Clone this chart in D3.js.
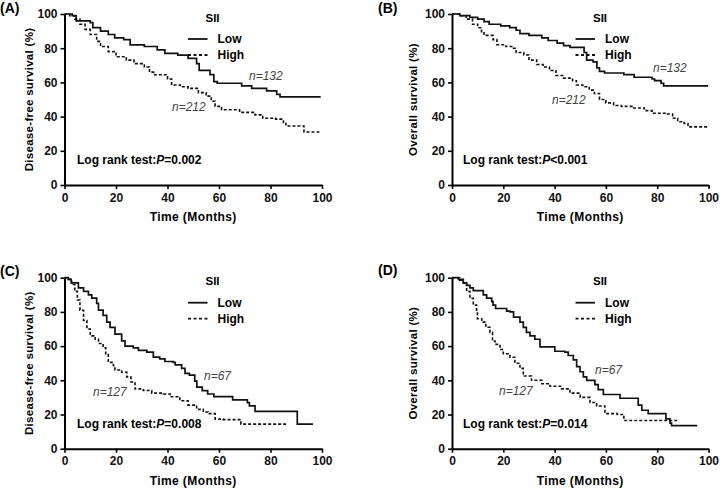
<!DOCTYPE html>
<html>
<head>
<meta charset="utf-8">
<script src="https://cdn.jsdelivr.net/npm/d3@7"></script>
<style>
  body { margin: 0; background: #fff; }
  svg { display: block; font-family: "Liberation Sans", Arial, sans-serif; }
</style>
</head>
<body>
<svg id="chart" width="720" height="488"></svg>
<script>
const monthTicks = [0, 20, 40, 60, 80, 100];
const survivalTicks = [0, 20, 40, 60, 80, 100];

// [month, survival %] step points
const dfsLowA = [[0,100],[3,99],[4.5,96],[10,95],[11,92],[14,90],[17,88],[19.5,86],[23,85],[25.5,82],[31,81],[36,79],[39,77],[44,76],[48,74],[51.3,71],[52.3,67],[56.5,64.5],[58,60.5],[59.3,59.5],[68.8,58],[72.7,56.5],[78.5,55],[82.4,53],[83.7,51.5],[99.5,51.5]];
const dfsHighA = [[0,100],[2,99],[4,97],[6,94],[8,91],[10,88],[12.5,84],[14,81],[17,78],[20,75],[24,73],[27,71],[31,69],[33,66],[35,64.5],[40,62],[41.6,58.5],[45,57.5],[48,56.5],[52,54],[55,52],[57,49],[58.5,46],[61,44],[68,42.5],[74,41],[77,39],[82,38.5],[85,36],[86,34.5],[93,31],[99,31]];

const osLowB = [[0,100],[3,99],[7,98],[10,97],[12.5,95.5],[14.5,94],[19,93],[22.5,92],[25,90.5],[26.5,88.5],[30,87.5],[35,86],[37.5,84.5],[41,83],[43.5,81.5],[46,80.5],[51.5,77.5],[52.5,73],[55,72],[56.5,68.5],[57.5,66.5],[59.5,65.5],[67,64.5],[71,63],[78,62],[79,61],[81.5,59.5],[82.5,58],[99.9,58]];
const osHighB = [[0,100],[3,99],[5.5,97],[8,94],[10,92],[11.5,89],[12.5,87.5],[16,85],[17.5,82],[21,81],[24,80],[25,77.5],[28,76],[30,73],[33,70.5],[35.5,69],[38,67],[40.5,64],[43.5,62.5],[47,61],[48.5,58.5],[51,57.5],[53.5,55.5],[55.5,53.5],[57.5,50],[60,48],[63,46.5],[66,46],[70.5,45],[75,43.5],[78,42],[84,41.5],[86,39],[88,37],[90.5,36],[92,34],[99.9,34]];

const dfsLowC = [[0,100],[1.5,99],[2.6,97],[5.4,94],[7.4,92],[9.3,90],[10.6,88],[12.5,85],[13.2,81],[15,78],[16.4,74],[17.7,71],[19.6,67],[22.2,63],[23.5,60],[26.7,59],[28.7,57.5],[32,56.5],[34.5,53.5],[37,52.5],[39,51],[42.2,50.5],[43,49],[45.5,47],[46.8,44],[48.5,43],[50.6,39.5],[51.4,36],[53.5,34],[55.6,32],[58,30.5],[65.3,28.5],[71,27],[71.8,25],[74,21.8],[90.4,14.4],[96.5,14.4]];
const dfsHighC = [[0,100],[1.5,99],[2.8,96],[4,92],[5,87],[6,81],[7.4,75],[8.7,70],[10,66],[11.9,64],[13.2,61.5],[15,59],[16,55],[17,50.5],[19,48.5],[19.6,46],[22.2,44.7],[24.2,42],[25.8,39],[27.4,35],[30.6,34],[33.9,32.5],[38.4,32],[41,30.4],[44.8,28],[48,25.5],[51.3,23],[53.9,21.5],[55.8,20.5],[58.5,17.3],[61.6,17],[68.5,14.4],[86.2,14.4]];

const osLowD = [[0,100],[2.5,99],[4.4,97],[5.7,95.5],[7,94],[8.3,92.5],[12.2,90],[13.5,88],[15.5,86],[16,84],[17,82],[21.3,80.5],[22.6,80],[24,77],[26.5,74],[27.8,71],[29,68],[30.4,66],[32.3,64],[34.3,59.5],[40.1,57],[44,56.5],[45.3,54.5],[47.3,52],[48.6,48],[49.9,45],[51.2,42],[52.5,40],[55.7,37.5],[57,34.5],[59,31.7],[65.5,29.5],[72.6,25.5],[74,22.5],[76.5,20.5],[83.4,17.5],[85,15],[85.6,13.5],[95.6,13.5]];
const osHighD = [[0,100],[3,98.5],[4.4,97],[5.7,92],[7,88],[8.3,84],[9.6,80],[9.9,76],[11.6,74],[13.2,71],[14.8,68],[15.8,63],[16.8,61],[18.7,58],[20,55.5],[22.6,53.5],[24.5,50],[26.5,47],[27.8,42.5],[31,40],[35,38],[38.2,36.5],[42.7,35],[46,32.5],[50,30],[53.8,27],[56.4,25],[59.6,20.5],[64.5,20],[67,16.5],[87.8,16.5]];

const panels = [
  { tag: "(A)", tagX: 0, tagY: 13, left: 64.5, top: 14, width: 257.5, yTitle: "Disease-free survival (%)", titleX: -35.5,
    low: dfsLowA, high: dfsHighA, nLow: "n=132", nHigh: "n=212",
    nLowPos: [184.5, 66], nHighPos: [107.5, 97], pText: "=0.002", pX: 12.5 },
  { tag: "(B)", tagX: 378, tagY: 13, left: 452, top: 14, width: 256.5, yTitle: "Overall survival (%)", titleX: -39,
    low: osLowB, high: osHighB, nLow: "n=132", nHigh: "n=212",
    nLowPos: [201, 58], nHighPos: [100, 90], pText: "<0.001", pX: 11 },
  { tag: "(C)", tagX: 0, tagY: 276, left: 64.5, top: 277.7, width: 257.5, yTitle: "Disease-free survival (%)", titleX: -35.5,
    low: dfsLowC, high: dfsHighC, nLow: "n=67", nHigh: "n=127",
    nLowPos: [139.5, 102], nHighPos: [28.5, 118], pText: "=0.008", pX: 12.5 },
  { tag: "(D)", tagX: 378, tagY: 275, left: 452, top: 277.7, width: 256.5, yTitle: "Overall survival (%)", titleX: -39,
    low: osLowD, high: osHighD, nLow: "n=67", nHigh: "n=127",
    nLowPos: [143, 96], nHighPos: [47, 117], pText: "=0.014", pX: 11 }
];

const svg = d3.select("#chart");
const plotHeight = 171;

panels.forEach(p => {
  svg.append("text")
    .attr("x", p.tagX)
    .attr("y", p.tagY)
    .attr("font-size", 14)
    .attr("font-weight", 700)
    .text(p.tag);

  const g = svg.append("g").attr("transform", `translate(${p.left},${p.top})`);

  const x = d3.scaleLinear().domain([0, 100]).range([0, p.width]);
  const y = d3.scaleLinear().domain([0, 100]).range([plotHeight, 0]);

  const styleAxis = sel => {
    sel.select(".domain").attr("stroke-width", 2);
    sel.selectAll(".tick line").attr("stroke-width", 1.6);
    sel.selectAll(".tick text")
      .attr("font-size", 12)
      .attr("font-weight", 700)
      .attr("font-family", "'Liberation Sans', Arial, sans-serif")
      .attr("fill", "#111");
  };

  g.append("g")
    .attr("transform", `translate(0,${plotHeight})`)
    .call(d3.axisBottom(x).tickValues(monthTicks).tickSize(4).tickSizeOuter(0).tickPadding(4))
    .call(styleAxis);

  g.append("g")
    .call(d3.axisLeft(y).tickValues(survivalTicks).tickSize(4).tickSizeOuter(0).tickPadding(3))
    .call(styleAxis);

  g.append("text")
    .attr("x", p.width / 2)
    .attr("y", plotHeight + 36)
    .attr("text-anchor", "middle")
    .attr("font-size", 12)
    .attr("font-weight", 700)
    .attr("letter-spacing", 0.4)
    .text("Time (Months)");

  g.append("text")
    .attr("transform", `translate(${p.titleX},${plotHeight / 2}) rotate(-90)`)
    .attr("text-anchor", "middle")
    .attr("dy", "0.35em")
    .attr("font-size", 11.5)
    .attr("font-weight", 700)
    .attr("letter-spacing", 0.3)
    .text(p.yTitle);

  const line = d3.line()
    .x(d => x(d[0]))
    .y(d => y(d[1]))
    .curve(d3.curveStepAfter);

  g.append("path")
    .datum(p.high)
    .attr("d", line)
    .attr("fill", "none")
    .attr("stroke", "#111")
    .attr("stroke-width", 1.6)
    .attr("stroke-dasharray", "3,2");

  g.append("path")
    .datum(p.low)
    .attr("d", line)
    .attr("fill", "none")
    .attr("stroke", "#111")
    .attr("stroke-width", 1.7);

  // legend
  g.append("text")
    .attr("x", 148)
    .attr("y", 7.5)
    .attr("text-anchor", "middle")
    .attr("font-size", 11.5)
    .attr("font-weight", 700)
    .text("SII");

  [["Low", null, 25], ["High", "3,2.5", 41]].forEach(([label, dash, ly]) => {
    g.append("line")
      .attr("x1", 123.5).attr("x2", 143)
      .attr("y1", ly).attr("y2", ly)
      .attr("stroke", "#111")
      .attr("stroke-width", 1.8)
      .attr("stroke-dasharray", dash);
    g.append("text")
      .attr("x", 153)
      .attr("y", ly)
      .attr("dy", "0.35em")
      .attr("font-size", 12)
      .attr("font-weight", 700)
      .text(label);
  });

  [[p.nLow, p.nLowPos], [p.nHigh, p.nHighPos]].forEach(([label, pos]) => {
    g.append("text")
      .attr("x", pos[0])
      .attr("y", pos[1])
      .attr("font-size", 12)
      .attr("font-style", "italic")
      .attr("fill", "#444")
      .text(label);
  });

  const lr = g.append("text")
    .attr("x", p.pX)
    .attr("y", 150)
    .attr("font-size", 12)
    .attr("font-weight", 700);
  lr.append("tspan").text("Log rank test:");
  lr.append("tspan").attr("font-style", "italic").text("P");
  lr.append("tspan").text(p.pText);
});
</script>
</body>
</html>
